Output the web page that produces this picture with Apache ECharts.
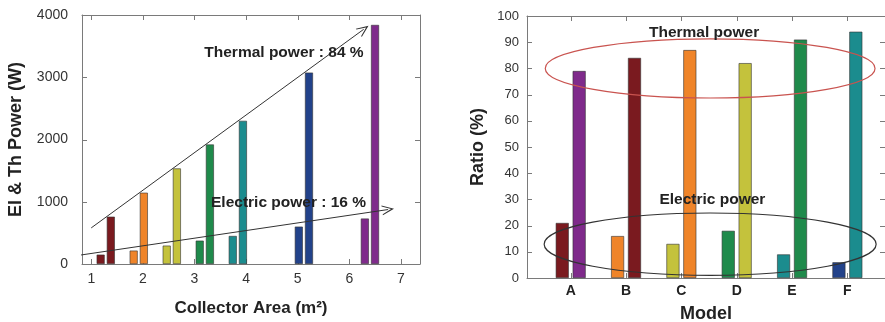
<!DOCTYPE html>
<html>
<head>
<meta charset="utf-8">
<script src="https://cdn.jsdelivr.net/npm/echarts@6/dist/echarts.min.js"></script>
<style>
  html, body { margin: 0; padding: 0; background: #fff; }
  #main { width: 885px; height: 322px; }
</style>
</head>
<body>
<div id="main"></div>
<script>
// left panel: power vs collector area
var areas = [1.28, 1.92, 2.56, 3.2, 3.84, 5.12, 6.4];
var elPower = [150, 215, 295, 375, 450, 600, 730];
var thPower = [760, 1145, 1535, 1920, 2300, 3075, 3840];
var areaTicks = [1, 2, 3, 4, 5, 6, 7];
var powerTicks = [0, 1000, 2000, 3000, 4000];

// right panel: ratio per model
var models = ['A', 'B', 'C', 'D', 'E', 'F'];
var elRatio = [21, 16, 13, 18, 9, 6];
var thRatio = [79, 84, 87, 82, 91, 94];
var ratioTicks = [0, 10, 20, 30, 40, 50, 60, 70, 80, 90, 100];

var palette = ['#7a1a1f', '#ef8429', '#c4c23c', '#1f8a4b', '#1b8c8e', '#22428a', '#7f2a8b'];
var elColorsR = [palette[0], palette[1], palette[2], palette[3], palette[4], palette[5]];
var thColorsR = [palette[6], palette[0], palette[1], palette[2], palette[3], palette[4]];

var FONT = 'Liberation Sans, Arial, sans-serif';
var frameColor = '#7a7a7a';

var chart = echarts.init(document.getElementById('main'));

function pairs(xs, ys, colors){
	var out = [];
	for (var i=0; i<ys.length; i++){
		out.push({value: [xs[i], ys[i]], itemStyle: {color: colors[i]}});
	}
	return out;
}
var modelPos = models.map(function(m, i){ return i + 1; });
function plain(v){ return String(v); }

function frameAxis(extra){
	var base = {
		axisLine: {show: true, onZero: false, lineStyle: {color: frameColor, width: 1}},
		axisTick: {show: false},
		splitLine: {show: false},
		axisLabel: {show: false}
	};
	return Object.assign(base, extra);
}

// inward tick marks on all four sides of a grid, placed through the axes
function frameTicks(axisIndex, xTicks, yTicks, xRef){
	var data = xTicks.map(function(v){ return [0, v]; })
		.concat(yTicks.map(function(v){ return [1, v]; }));
	return {
		type: 'custom', xAxisIndex: axisIndex, yAxisIndex: axisIndex, z: 1, silent: true,
		data: data,
		renderItem: function(params, api){
			var cs = params.coordSys;
			var kind = api.value(0), v = api.value(1), L = 5;
			var segs;
			if (kind === 0){
				var p = Math.round(api.coord([v, yTicks[0]])[0]) + 0.5;
				segs = [[p, cs.y, p, cs.y + L], [p, cs.y + cs.height, p, cs.y + cs.height - L]];
			} else {
				var q = Math.round(api.coord([xRef, v])[1]) + 0.5;
				segs = [[cs.x, q, cs.x + L, q], [cs.x + cs.width, q, cs.x + cs.width - L, q]];
			}
			return {type: 'group', children: segs.map(function(s){
				return {type: 'line', shape: {x1: s[0], y1: s[1], x2: s[2], y2: s[3]},
					style: {stroke: frameColor, lineWidth: 1}};
			})};
		}
	};
}

var arrowHead = 'path://M0,12 L5,0 L10,12 L9,12 L5,3 L1,12 Z';

var option = {
	animation: false,
	textStyle: {fontFamily: FONT},
	grid: [
		{left: 82, top: 15, width: 338, height: 249, outerBoundsMode: 'none', containLabel: false},
		{left: 527, top: 16, width: 358, height: 262, outerBoundsMode: 'none', containLabel: false}
	],
	xAxis: [
		frameAxis({
			type: 'value', gridIndex: 0, min: 0.82, max: 7.37, position: 'bottom',
			axisLabel: {show: true, customValues: areaTicks, color: '#333', fontSize: 14, margin: 8, fontFamily: FONT, formatter: plain},
			name: 'Collector Area (m²)', nameLocation: 'middle', nameGap: 36,
			nameTextStyle: {fontSize: 17, fontWeight: 'bold', color: '#222', fontFamily: FONT}
		}),
		frameAxis({type: 'value', gridIndex: 0, min: 0.82, max: 7.37, position: 'top'}),
		frameAxis({
			type: 'value', gridIndex: 1, min: 0.21, max: 6.68, position: 'bottom',
			axisLabel: {show: true, customValues: modelPos, color: '#222', fontSize: 14, fontWeight: 'bold', margin: 6, fontFamily: FONT,
				formatter: function(v){ return models[Math.round(v) - 1] || ''; }},
			name: 'Model', nameLocation: 'middle', nameGap: 27,
			nameTextStyle: {fontSize: 18, fontWeight: 'bold', color: '#222', fontFamily: FONT}
		}),
		frameAxis({type: 'value', gridIndex: 1, min: 0.21, max: 6.68, position: 'top'})
	],
	yAxis: [
		frameAxis({
			type: 'value', gridIndex: 0, min: 0, max: 4000, interval: 1000, position: 'left',
			axisLabel: {show: true, color: '#333', fontSize: 14, margin: 14, fontFamily: FONT, formatter: plain},
			name: 'El & Th Power (W)', nameLocation: 'middle', nameGap: 57, nameRotate: 90,
			nameTextStyle: {fontSize: 18, fontWeight: 'bold', color: '#222', fontFamily: FONT}
		}),
		frameAxis({type: 'value', gridIndex: 0, min: 0, max: 4000, interval: 1000, position: 'right'}),
		frameAxis({
			type: 'value', gridIndex: 1, min: 0, max: 100, interval: 10, position: 'left',
			axisLabel: {show: true, color: '#333', fontSize: 13, margin: 8, fontFamily: FONT, formatter: plain},
			name: 'Ratio (%)', nameLocation: 'middle', nameGap: 40, nameRotate: 90,
			nameTextStyle: {fontSize: 18, fontWeight: 'bold', color: '#222', fontFamily: FONT}
		}),
		frameAxis({type: 'value', gridIndex: 1, min: 0, max: 100, interval: 10, position: 'right'})
	],
	series: [
		frameTicks(0, areaTicks, powerTicks, 1),
		frameTicks(2, modelPos, ratioTicks, 1),
		{
			name: 'Electric', type: 'bar', xAxisIndex: 0, yAxisIndex: 0,
			barWidth: 8, barGap: '27%', z: 2,
			itemStyle: {borderColor: '#333', borderWidth: 0.6},
			data: pairs(areas, elPower, palette),
			markLine: {
				silent: true, symbol: ['none', arrowHead], symbolSize: [10, 12],
				label: {show: false},
				lineStyle: {color: '#333', width: 1, type: 'solid'},
				data: [[{coord: [0.9, 145]}, {coord: [6.85, 875]}]]
			}
		},
		{
			name: 'Thermal', type: 'bar', xAxisIndex: 0, yAxisIndex: 0,
			barWidth: 8, barGap: '27%', z: 2,
			itemStyle: {borderColor: '#333', borderWidth: 0.6},
			data: pairs(areas, thPower, palette),
			markLine: {
				silent: true, symbol: ['none', arrowHead], symbolSize: [10, 12],
				label: {show: false},
				lineStyle: {color: '#333', width: 1, type: 'solid'},
				data: [[{coord: [0.9, 580]}, {coord: [6.18, 3770]}]]
			}
		},
		{
			name: 'Electric ratio', type: 'bar', xAxisIndex: 2, yAxisIndex: 2,
			barWidth: 13, barGap: '30%', z: 2,
			itemStyle: {borderColor: '#333', borderWidth: 0.6},
			data: pairs(modelPos, elRatio, elColorsR)
		},
		{
			name: 'Thermal ratio', type: 'bar', xAxisIndex: 2, yAxisIndex: 2,
			barWidth: 13, barGap: '30%', z: 2,
			itemStyle: {borderColor: '#333', borderWidth: 0.6},
			data: pairs(modelPos, thRatio, thColorsR)
		}
	]
};
chart.setOption(option);

// annotations placed in data coordinates
function px(grid, x, y){
	return chart.convertToPixel({xAxisIndex: grid === 0 ? 0 : 2, yAxisIndex: grid === 0 ? 0 : 2}, [x, y]);
}
function textAt(grid, x, y, str, size, align){
	var p = px(grid, x, y);
	return {type: 'text', x: p[0], y: p[1], z: 100,
		style: {text: str, fill: '#222', font: 'bold ' + size + 'px ' + FONT, align: align || 'left', verticalAlign: 'middle'}};
}
function ellipseAt(grid, x, y, rx, ry, color){
	var c = px(grid, x, y);
	var e = px(grid, x + rx, y + ry);
	return {type: 'ellipse', z: 100, silent: true,
		shape: {cx: c[0], cy: c[1], rx: Math.abs(e[0] - c[0]), ry: Math.abs(e[1] - c[1])},
		style: {fill: null, stroke: color, lineWidth: 1.2}};
}

chart.setOption({
	graphic: [
		textAt(0, 3.19, 3390, 'Thermal power : 84 %', 15.5),
		textAt(0, 3.32, 980, 'Electric power : 16 %', 15.5),
		ellipseAt(1, 3.52, 80, 2.98, 11.3, '#c9534f'),
		ellipseAt(1, 3.52, 12.9, 3.0, 11.9, '#333'),
		textAt(1, 3.41, 93.5, 'Thermal power', 15.5, 'center'),
		textAt(1, 3.56, 29.8, 'Electric power', 15.5, 'center')
	]
});
</script>
</body>
</html>
